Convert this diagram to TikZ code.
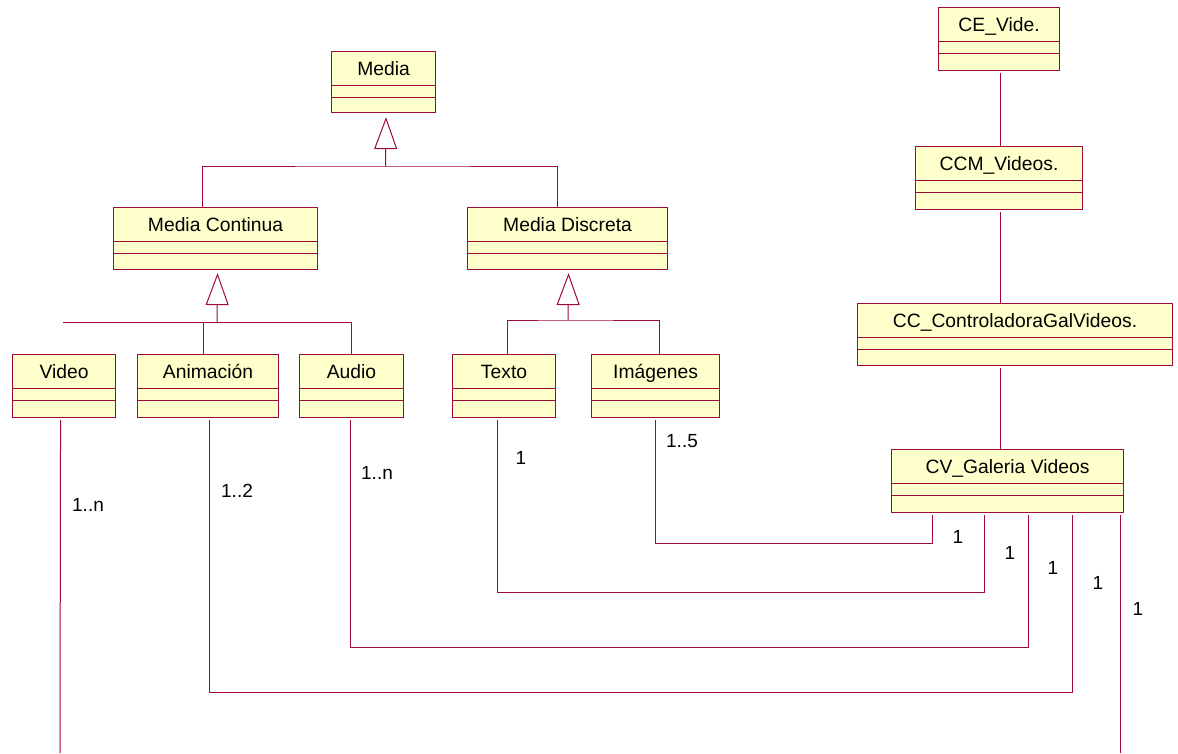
\documentclass[tikz,border=0pt]{standalone}
\usepackage{fontspec}
\setmainfont{Liberation Sans}
\usetikzlibrary{arrows.meta}

\definecolor{umlline}{RGB}{158,10,60}
\definecolor{umlfill}{RGB}{255,255,204}

\tikzset{
  classbox/.style={draw=umlline, fill=umlfill, line width=1.1pt, rectangle, inner sep=0pt},
  classline/.style={draw=umlline, line width=1pt},
  classname/.style={font=\fontsize{19.3}{23}\selectfont, text=black, inner sep=0pt, anchor=base},
  link/.style={draw=umlline, line width=1pt},
  gen/.style={draw=umlline, line width=1pt, -{Triangle[open, length=32pt, width=23pt]}},
  mult/.style={font=\fontsize{19}{23}\selectfont, text=black, inner sep=0pt},
}

% UML class: name, left, top, right, bottom, title
\newcommand\umlclass[6]{%
  \pgfmathsetmacro\cw{#4-#2}\pgfmathsetmacro\ch{#5-#3}%
  \node[classbox, minimum width=\cw pt, minimum height=\ch pt, anchor=north west] (#1) at (#2,#3) {};
  \draw[classline] ([yshift=-34.5pt]#1.north west) -- ([yshift=-34.5pt]#1.north east);
  \draw[classline] ([yshift=-46.5pt]#1.north west) -- ([yshift=-46.5pt]#1.north east);
  \node[classname] (#1-name) at ([yshift=-24.5pt]#1.north) {#6};
}

\begin{document}
\begin{tikzpicture}[x=1pt, y=-1pt]
\useasboundingbox (0,0) rectangle (1178,753);

% media hierarchy
\umlclass{media}{331}{51}{435}{112}{Media}
\umlclass{mcont}{113}{207}{317}{269}{Media Continua}
\umlclass{mdisc}{467}{207}{667}{269}{Media Discreta}
\umlclass{video}{12}{354}{115}{417}{Video}
\umlclass{anim}{137}{354}{278}{417}{Animación}
\umlclass{audio}{299}{354}{403}{417}{Audio}
\umlclass{texto}{452}{354}{555}{417}{Texto}
\umlclass{imag}{591}{354}{719}{417}{Imágenes}

% video gallery chain
\umlclass{ce}{938}{7}{1059}{70}{CE\_Vide.}
\umlclass{ccm}{915}{146}{1082}{209}{CCM\_Videos.}
\umlclass{cc}{857}{303}{1172}{365}{CC\_ControladoraGalVideos.}
\umlclass{cv}{891}{449}{1123}{512}{CV\_Galeria Videos}

% generalization: Media
\coordinate (mjoin) at (385.5,166);
\draw[link] ([xshift=-13pt]mcont.north) |- (mjoin) -| ([xshift=-10pt]mdisc.north);
\draw[gen] (mjoin) -- ([xshift=2.5pt, yshift=-4pt]media.south);

% generalization: Media Continua
\coordinate (cfree) at (63,322);
\coordinate (cjoin) at (217,322);
\draw[link] (cfree) -| (audio.north);
\draw[link] ([xshift=-5pt]anim.north) -- ([xshift=-5pt]anim.north |- cfree);
\draw[gen] (cjoin) -- ([xshift=2pt, yshift=-3pt]mcont.south);

% generalization: Media Discreta
\coordinate (djoin) at (568,320);
\draw[link] ([xshift=3.5pt]texto.north) |- (djoin) -| ([xshift=4pt]imag.north);
\draw[gen] (djoin) -- ([xshift=1pt, yshift=-3pt]mdisc.south);

% vertical chain on the right
\coordinate (spine) at (1000.5,0);
\draw[link] ([yshift=-2pt]ce.south -| spine) -- (ccm.north -| spine);
\draw[link] ([yshift=-2pt]ccm.south -| spine) -- (cc.north -| spine);
\draw[link] ([yshift=-2pt]cc.south -| spine) -- (cv.north -| spine);

% associations from CV_Galeria Videos
\coordinate (v1) at (932,0);
\coordinate (v2) at (984,0);
\coordinate (v3) at (1028,0);
\coordinate (v4) at (1072,0);
\coordinate (v5) at (1120,0);
\draw[link] ([yshift=-2pt]imag.south) |- (932,543) -- ([yshift=-2pt]cv.south -| v1);
\draw[link] ([xshift=-6.5pt, yshift=-2pt]texto.south) |- (984,592) -- ([yshift=-2pt]cv.south -| v2);
\draw[link] ([xshift=-1pt, yshift=-2pt]audio.south) |- (1028,647) -- ([yshift=-2pt]cv.south -| v3);
\draw[link] ([xshift=1.5pt, yshift=-2pt]anim.south) |- (1072,692) -- ([yshift=-2pt]cv.south -| v4);
\coordinate (vend) at (60,753);
\coordinate (cvend) at (1120,753);
\draw[link] ([xshift=-3.5pt, yshift=-2pt]video.south) -- (vend);
\draw[link] ([yshift=-2pt]cv.south -| v5) -- (cvend);

% multiplicities
\node[mult] (m-video) at (88,505) {1..n};
\node[mult] (m-anim) at (237,491) {1..2};
\node[mult] (m-audio) at (377,473) {1..n};
\node[mult] (m-texto) at (521,458) {1};
\node[mult] (m-imag) at (682,441) {1..5};
\node[mult] (m-cv1) at (958,537) {1};
\node[mult] (m-cv2) at (1010,553) {1};
\node[mult] (m-cv3) at (1053,568) {1};
\node[mult] (m-cv4) at (1098,583) {1};
\node[mult] (m-cv5) at (1138,609) {1};
\end{tikzpicture}
\end{document}
